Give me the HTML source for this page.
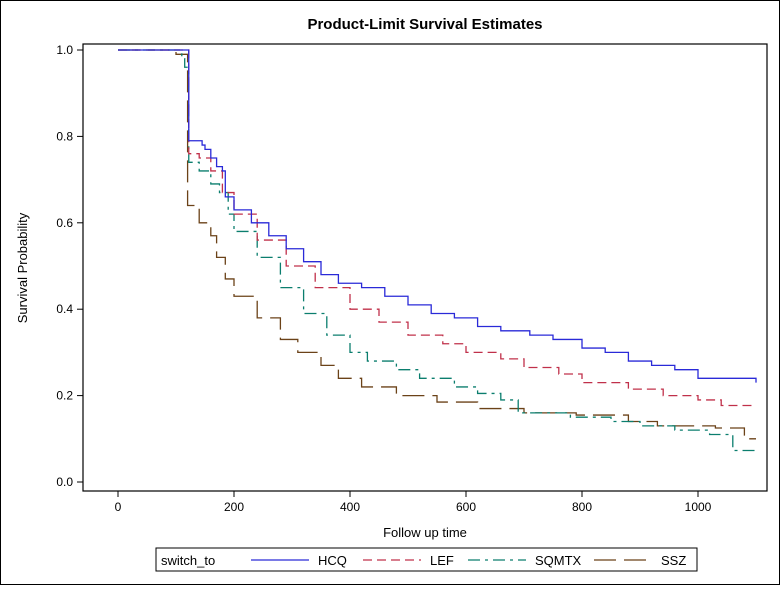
<!DOCTYPE html>
<html><head><meta charset="utf-8"><style>
body{margin:0;background:#fff;}
svg text{font-family:"Liberation Sans",Arial,sans-serif;}
</style></head><body>
<svg id="chart" width="780" height="585" xmlns="http://www.w3.org/2000/svg">
<rect x="0.5" y="0.5" width="779" height="584" fill="#fff" stroke="#000"/>
<text x="425" y="29" text-anchor="middle" font-size="15" font-weight="bold">Product-Limit Survival Estimates</text>
<text x="27" y="268" text-anchor="middle" font-size="13" transform="rotate(-90 27 268)">Survival Probability</text>
<text x="425" y="537" text-anchor="middle" font-size="13">Follow up time</text>
<g id="plot"></g>
<rect x="83" y="44" width="684" height="447" fill="none" stroke="#000" stroke-width="1.2"/>
<g>
<rect x="156" y="548" width="541" height="23" fill="#fff" stroke="#000"/>
<text x="161" y="565" font-size="13">switch_to</text>
<line x1="251" y1="560" x2="309" y2="560" stroke="#2a2ad8" stroke-width="1.3"/>
<text x="318" y="565" font-size="13">HCQ</text>
<line x1="363" y1="560" x2="421" y2="560" stroke="#c0304a" stroke-width="1.3" stroke-dasharray="9,5"/>
<text x="430" y="565" font-size="13">LEF</text>
<line x1="468" y1="560" x2="526" y2="560" stroke="#0b7e6e" stroke-width="1.3" stroke-dasharray="12,5,3,5"/>
<text x="535" y="565" font-size="13">SQMTX</text>
<line x1="594" y1="560" x2="652" y2="560" stroke="#6b4218" stroke-width="1.3" stroke-dasharray="22,8"/>
<text x="661" y="565" font-size="13">SSZ</text>
</g>
</svg>
<script>
const xTicks=[0,200,400,600,800,1000];
const yTicks=[0,0.2,0.4,0.6,0.8,1.0];
const yTickLabels=["0.0","0.2","0.4","0.6","0.8","1.0"];
const hcqT=[0,122,145,150,160,170,180,185,200,230,260,290,320,350,380,420,460,500,540,580,620,660,710,750,800,840,880,920,960,1000,1100];
const hcqS=[1,0.79,0.78,0.77,0.75,0.73,0.72,0.66,0.63,0.6,0.57,0.54,0.51,0.48,0.46,0.45,0.43,0.41,0.39,0.38,0.36,0.35,0.34,0.33,0.31,0.30,0.28,0.27,0.26,0.24,0.23];
const lefT=[0,122,140,160,180,200,240,290,340,400,450,500,560,600,660,700,760,800,880,940,1000,1040];
const lefS=[1,0.76,0.75,0.72,0.67,0.62,0.56,0.5,0.45,0.40,0.37,0.34,0.32,0.30,0.285,0.265,0.25,0.23,0.215,0.2,0.19,0.177];
const sqT=[0,110,115,122,140,160,175,190,200,240,280,320,360,400,430,480,520,580,620,660,690,780,850,900,960,1020,1060];
const sqS=[1,0.98,0.96,0.74,0.72,0.69,0.67,0.62,0.58,0.52,0.45,0.39,0.34,0.30,0.28,0.26,0.24,0.22,0.205,0.19,0.16,0.15,0.14,0.13,0.12,0.11,0.073];
const sszT=[0,100,120,140,160,170,185,200,240,280,310,350,380,420,480,550,620,700,790,880,930,1030,1080];
const sszS=[1,0.99,0.64,0.6,0.57,0.52,0.47,0.43,0.38,0.33,0.30,0.27,0.24,0.22,0.20,0.185,0.17,0.16,0.155,0.14,0.13,0.125,0.10];
const tEnd=1100;
const NS="http://www.w3.org/2000/svg";
const X=t=>118+t*0.58;
const Y=s=>482-s*432;
const g=document.getElementById('plot');
function mk(tag,attrs){const e=document.createElementNS(NS,tag);for(const k in attrs)e.setAttribute(k,attrs[k]);g.appendChild(e);return e;}
xTicks.forEach(t=>{
  const l=mk('line',{x1:X(t),x2:X(t),y1:491,y2:497,stroke:'#000'});
  
  
  const tx=mk('text',{x:X(t),y:511,'text-anchor':'middle','font-size':12});
  tx.textContent=t;
  
  
});
yTicks.forEach((v,i)=>{
  const l=mk('line',{x1:77,x2:83,y1:Y(v),y2:Y(v),stroke:'#000'});
  
  
  const tx=mk('text',{x:73,y:Y(v)+4,'text-anchor':'end','font-size':12});
  tx.textContent=yTickLabels[i];
  
  
});
function step(T,S,color,dash,name){
  let d='M'+X(T[0])+','+Y(S[0]);
  for(let i=1;i<T.length;i++){d+=' H'+X(T[i])+' V'+Y(S[i]);}
  d+=' H'+X(tEnd);
  const p=mk('path',{d:d,fill:'none',stroke:color,'stroke-width':1.3,'stroke-dasharray':dash});
  
  
}
step(sszT,sszS,'#6b4218','22,8','series-ssz');
step(sqT,sqS,'#0b7e6e','12,5,3,5','series-sqmtx');
step(lefT,lefS,'#c0304a','9,5','series-lef');
step(hcqT,hcqS,'#2a2ad8','none','series-hcq');
</script>
</body></html>
